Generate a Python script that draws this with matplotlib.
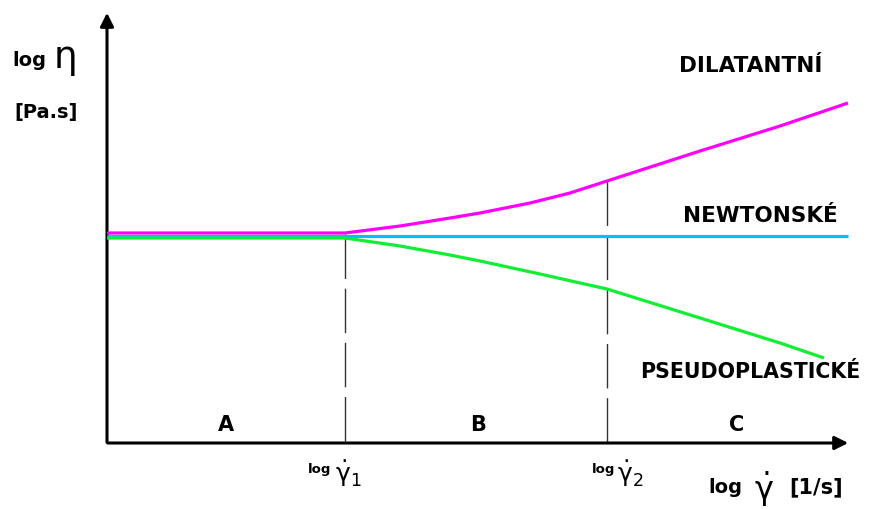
import matplotlib
matplotlib.use("Agg")
import matplotlib.pyplot as plt

plt.rcParams["mathtext.default"] = "regular"

# Schéma: viskozita v závislosti na smykové rychlosti (pixelové souřadnice obrázku)
newton_x = [107, 848]
newton_y = [236, 236]

dilat_x = [107, 345, 400, 450, 480, 530, 570, 607, 700, 780, 848]
dilat_y = [233, 233, 226, 218, 213, 203, 193, 181, 151, 126, 103]

pseudo_x = [107, 345, 400, 450, 480, 540, 607, 700, 780, 824]
pseudo_y = [238, 238, 246, 255, 261, 274, 289, 318, 343, 358]

# polohy log gamma_1 a log gamma_2
gamma_x = [345, 607]
gamma_top = [234, 181]

region_labels = ["A", "B", "C"]
region_x = [226, 478, 737]

fig = plt.figure(figsize=(8.71, 5.09), dpi=100)
ax = fig.add_axes([0, 0, 1, 1])
ax.set_xlim(0, 871)
ax.set_ylim(509, 0)
ax.axis("off")

# osy se šipkami
ax.annotate("", xy=(107, 10), xytext=(107, 445),
            arrowprops=dict(arrowstyle="-|>", lw=2.2, color="black", mutation_scale=20))
ax.annotate("", xy=(851, 443), xytext=(105, 443),
            arrowprops=dict(arrowstyle="-|>", lw=2.2, color="black", mutation_scale=20))

# křivky
ax.plot(newton_x, newton_y, color="#00bfff", lw=2.3, solid_capstyle="butt", zorder=3)
ax.plot(dilat_x, dilat_y, color="#ff00ff", lw=2.3, solid_capstyle="butt",
        solid_joinstyle="round", zorder=4)
ax.plot(pseudo_x, pseudo_y, color="#11ee33", lw=2.3, solid_capstyle="butt",
        solid_joinstyle="round", zorder=4)

# svislé čárkované čáry
for gx, gt in zip(gamma_x, gamma_top):
    ax.plot([gx, gx], [gt, 443], color="#333333", lw=1.0, dashes=(32, 7), zorder=2)

bold = dict(fontweight="bold", color="black")
ax.text(12, 66, "log", fontsize=14, va="baseline", **bold)
ax.text(54, 68, "η", fontsize=27, va="baseline", color="black")
ax.text(14, 118, "[Pa.s]", fontsize=14, va="baseline", **bold)

ax.text(679, 72, "DILATANTNÍ", fontsize=15.5, va="baseline", **bold)
ax.text(683, 222, "NEWTONSKÉ", fontsize=15.5, va="baseline", **bold)
ax.text(640, 378, "PSEUDOPLASTICKÉ", fontsize=14.8, va="baseline", **bold)

for lab, rx in zip(region_labels, region_x):
    ax.text(rx, 431, lab, fontsize=15, ha="center", va="baseline", **bold)

ax.text(308, 473, "log", fontsize=9.5, va="baseline", **bold)
ax.text(335, 482, r"$\dot{γ}_1$", fontsize=18, va="baseline")
ax.text(592, 473, "log", fontsize=9.5, va="baseline", **bold)
ax.text(617, 482, r"$\dot{γ}_2$", fontsize=18, va="baseline")

ax.text(708, 493, "log", fontsize=14, va="baseline", **bold)
ax.text(754, 500, r"$\dot{γ}$", fontsize=23, va="baseline")
ax.text(789, 493, "[1/s]", fontsize=15, va="baseline", **bold)

fig.savefig("out.png", dpi=100)
